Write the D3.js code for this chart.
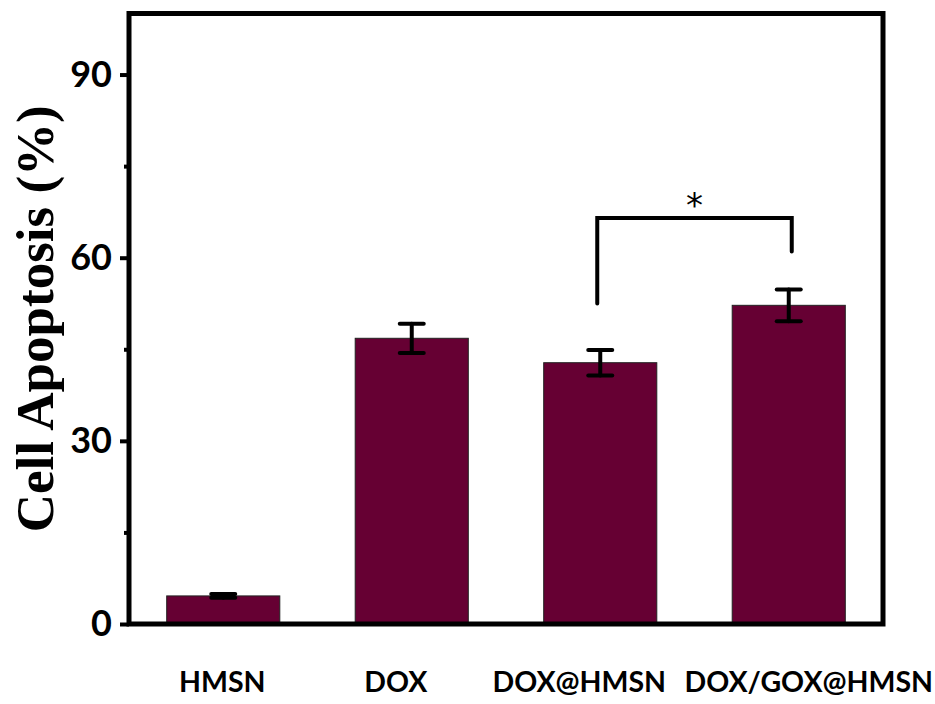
<!DOCTYPE html>
<html>
<head>
    <title>Cell Apoptosis</title>
    <script src="https://d3js.org/d3.v7.min.js"></script>
    <style>
        body { margin: 0; background: white; }
    </style>
</head>
<body>
    <div id="chart"></div>
    <script>
        const groups = ["HMSN", "DOX", "DOX@HMSN", "DOX/GOX@HMSN"];
        const means = [4.6, 46.8, 42.8, 52.2];
        const errors = [0.3, 2.4, 2.1, 2.6];
        const yTicks = [0, 30, 60, 90];
        const yMinorTicks = [15, 45, 75];

        const width = 935;
        const height = 704;
        const margin = { left: 129, right: 52, top: 13.5, bottom: 80 };
        // the category labels in the original are nudged off-centre
        const labelShift = [-1, -16, -21, 20];

        const svg = d3.select("#chart")
            .append("svg")
            .attr("width", width)
            .attr("height", height);

        const x = d3.scaleBand()
            .domain(groups)
            .range([margin.left, width - margin.right])
            .paddingInner(0.4)
            .paddingOuter(0.2);

        const y = d3.scaleLinear()
            .domain([0, 100])
            .range([height - margin.bottom, margin.top]);

        // bars
        svg.selectAll("rect.bar")
            .data(groups)
            .enter()
            .append("rect")
            .attr("class", "bar")
            .attr("x", d => x(d))
            .attr("y", (d, i) => y(means[i]))
            .attr("width", x.bandwidth())
            .attr("height", (d, i) => y(0) - y(means[i]))
            .attr("fill", "#660033")
            .attr("stroke", "#222")
            .attr("stroke-width", 1);

        // error bars
        const eb = svg.append("g")
            .attr("stroke", "black")
            .attr("stroke-width", 4)
            .attr("stroke-linecap", "round");
        groups.forEach((g, i) => {
            const cx = x(g) + x.bandwidth() / 2;
            const hi = y(means[i] + errors[i]);
            const lo = y(means[i] - errors[i]);
            eb.append("line").attr("x1", cx).attr("x2", cx).attr("y1", hi).attr("y2", lo);
            eb.append("line").attr("x1", cx - 12).attr("x2", cx + 12).attr("y1", hi).attr("y2", hi);
            eb.append("line").attr("x1", cx - 12).attr("x2", cx + 12).attr("y1", lo).attr("y2", lo);
        });

        // y axis
        const yAxis = svg.append("g")
            .attr("transform", `translate(${margin.left},0)`)
            .call(d3.axisLeft(y).tickValues(yTicks).tickSize(9).tickPadding(8));
        yAxis.select(".domain").remove();
        yAxis.selectAll(".tick line").attr("stroke-width", 4).attr("stroke", "black");
        yAxis.selectAll(".tick text")
            .attr("font-family", "Lato, 'Open Sans', sans-serif")
            .attr("font-weight", "bold")
            .attr("font-size", 36)
            .attr("fill", "black");

        const yMinor = svg.append("g")
            .attr("transform", `translate(${margin.left},0)`)
            .call(d3.axisLeft(y).tickValues(yMinorTicks).tickSize(5).tickFormat(""));
        yMinor.select(".domain").remove();
        yMinor.selectAll(".tick line").attr("stroke-width", 4).attr("stroke", "black");

        // frame
        svg.append("rect")
            .attr("x", margin.left)
            .attr("y", margin.top)
            .attr("width", width - margin.right - margin.left)
            .attr("height", y(0) - margin.top)
            .attr("fill", "none")
            .attr("stroke", "black")
            .attr("stroke-width", 5);

        // x labels
        svg.selectAll("text.xlab")
            .data(groups)
            .enter()
            .append("text")
            .attr("class", "xlab")
            .attr("x", (d, i) => x(d) + x.bandwidth() / 2 + labelShift[i])
            .attr("y", 692)
            .attr("text-anchor", "middle")
            .attr("font-family", "Lato, 'Open Sans', sans-serif")
            .attr("font-weight", "bold")
            .attr("font-size", 28.5)
            .text(d => d);

        // y label
        svg.append("text")
            .attr("transform", `translate(53,${(y(0) + margin.top) / 2}) rotate(-90)`)
            .attr("text-anchor", "middle")
            .attr("font-family", "'Liberation Serif', 'Times New Roman', serif")
            .attr("font-weight", "bold")
            .attr("font-size", 53)
            .text("Cell Apoptosis (%)");

        // significance bracket
        const x1 = x("DOX@HMSN") + x.bandwidth() / 2 - 3;
        const x2 = x("DOX/GOX@HMSN") + x.bandwidth() / 2 + 3;
        const yTop = y(66.5);
        svg.append("path")
            .attr("d", `M${x1},${y(52.5)}V${yTop}H${x2}V${y(61)}`)
            .attr("fill", "none")
            .attr("stroke", "black")
            .attr("stroke-width", 4)
            .attr("stroke-linecap", "round");
        svg.append("text")
            .attr("x", (x1 + x2) / 2)
            .attr("y", yTop - 1)
            .attr("text-anchor", "middle")
            .attr("font-family", "'DejaVu Sans', sans-serif")
            .attr("font-size", 34)
            .text("*");
    </script>
</body>
</html>
